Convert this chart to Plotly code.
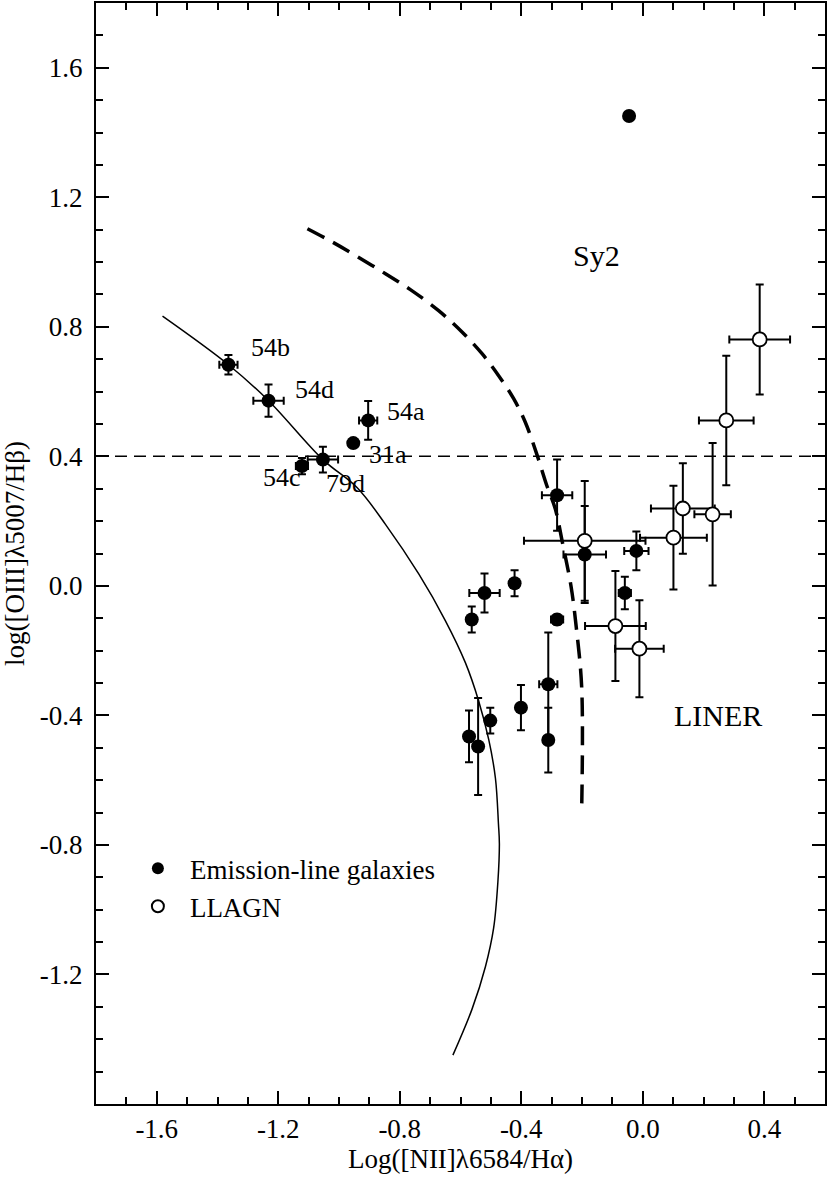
import plotly.graph_objects as go

# Emission-line galaxies (filled symbols)
gal_x = [-1.364, -1.232, -0.904, -0.953, -1.053, -1.122, -0.045, -0.282, -0.191, -0.021, -0.059,
         -0.422, -0.521, -0.563, -0.282, -0.311, -0.311, -0.401, -0.502, -0.572, -0.542]
gal_y = [0.683, 0.572, 0.511, 0.441, 0.390, 0.370, 1.451, 0.280, 0.097, 0.108, -0.022,
         0.008, -0.022, -0.104, -0.104, -0.304, -0.476, -0.376, -0.416, -0.465, -0.496]
gal_ex = [0.03, 0.05, 0.03, 0.01, 0.05, 0.02, 0.01, 0.05, 0.07, 0.04, 0.02,
          0.015, 0.05, 0.01, 0.02, 0.03, 0.01, 0.01, 0.01, 0.01, 0.01]
gal_ey = [0.03, 0.05, 0.06, 0.01, 0.04, 0.025, 0.01, 0.11, 0.15, 0.06, 0.05,
          0.04, 0.06, 0.04, 0.015, 0.16, 0.10, 0.07, 0.04, 0.08, 0.15]

# LLAGN (open symbols)
agn_x = [0.385, 0.275, 0.132, 0.230, 0.101, -0.191, -0.090, -0.011]
agn_y = [0.761, 0.511, 0.239, 0.221, 0.149, 0.139, -0.124, -0.194]
agn_ex = [0.10, 0.09, 0.105, 0.06, 0.11, 0.20, 0.10, 0.08]
agn_ey = [0.17, 0.20, 0.14, 0.22, 0.16, 0.185, 0.17, 0.15]

# point labels
lab_text = ["54b", "54d", "54a", "31a", "54c", "79d"]
lab_x = [-1.227, -1.082, -0.780, -0.838, -1.187, -0.980]
lab_y = [0.735, 0.606, 0.537, 0.407, 0.334, 0.315]

# thin solid sequence
seq_x = [-1.581, -1.364, -1.232, -1.053, -0.940, -0.847, -0.737, -0.650, -0.584, -0.540,
         -0.507, -0.485, -0.475, -0.472, -0.477, -0.491, -0.518, -0.562, -0.625]
seq_y = [0.833, 0.683, 0.572, 0.390, 0.303, 0.190, 0.036, -0.107, -0.237, -0.356,
         -0.475, -0.594, -0.736, -0.796, -0.915, -1.057, -1.176, -1.307, -1.449]

# thick dashed dividing line
div_x = [-1.104, -1.022, -0.945, -0.847, -0.765, -0.672, -0.595, -0.529, -0.475, -0.425,
         -0.387, -0.350, -0.316, -0.288, -0.264, -0.236, -0.219, -0.201, -0.201]
div_y = [1.103, 1.062, 1.020, 0.964, 0.915, 0.850, 0.784, 0.717, 0.650, 0.578,
         0.506, 0.410, 0.310, 0.238, 0.132, -0.002, -0.127, -0.314, -0.687]

x_ticks = [-1.6, -1.2, -0.8, -0.4, 0.0, 0.4]
y_ticks = [-1.2, -0.8, -0.4, 0.0, 0.4, 0.8, 1.2, 1.6]

font = "Liberation Serif"

fig = go.Figure()

fig.add_hline(y=0.4, line=dict(color="black", width=1.5, dash="12px,7px"))

fig.add_trace(go.Scatter(x=seq_x, y=seq_y, mode="lines", showlegend=False,
                         line=dict(color="black", width=1.5, shape="spline")))
fig.add_trace(go.Scatter(x=div_x, y=div_y, mode="lines", showlegend=False,
                         line=dict(color="black", width=3.5, dash="19px,10px", shape="spline", smoothing=1)))

err = dict(type="data", color="black", thickness=2, width=4)
fig.add_trace(go.Scatter(
    x=gal_x, y=gal_y, mode="markers", name="Emission-line galaxies", legendgroup="g",
    marker=dict(color="black", size=14, line=dict(width=0)),
    error_x=dict(array=gal_ex, **err), error_y=dict(array=gal_ey, **err)))
fig.add_trace(go.Scatter(
    x=agn_x, y=agn_y, mode="markers", name="LLAGN", legendgroup="a",
    marker=dict(color="white", size=14, line=dict(color="black", width=1.8)),
    error_x=dict(array=agn_ex, **err), error_y=dict(array=agn_ey, **err)))

for t, x, y in zip(lab_text, lab_x, lab_y):
    fig.add_annotation(x=x, y=y, text=t, showarrow=False, font=dict(size=26))
fig.add_annotation(x=-0.153, y=1.020, text="Sy2", showarrow=False, font=dict(size=30))
fig.add_annotation(x=0.248, y=-0.399, text="LINER", showarrow=False, font=dict(size=30))

axis = dict(showline=True, linecolor="black", linewidth=2, mirror="allticks",
            ticks="inside", ticklen=13, tickwidth=2, tickcolor="black",
            showgrid=False, zeroline=False, tickfont=dict(size=27),
            tickmode="array", automargin=False,
            minor=dict(ticks="inside", ticklen=7, tickwidth=2, tickcolor="black",
                       tickmode="linear", tick0=0, dtick=0.1, showgrid=False))

fig.update_xaxes(**axis, range=[-1.8, 0.6], tickvals=x_ticks,
                 ticktext=["%.1f" % v for v in x_ticks], ticklabelstandoff=0,
                 title=dict(text="Log([NII]λ6584/Hα)", font=dict(size=27), standoff=2))
fig.update_yaxes(**axis, range=[-1.6, 1.8], tickvals=y_ticks,
                 ticktext=["%.1f" % v for v in y_ticks], ticklabelstandoff=6,
                 title=dict(text="log([OIII]λ5007/Hβ)", font=dict(size=27), standoff=10))

fig.update_layout(
    width=830, height=1178,
    margin=dict(l=96, r=5, t=3, b=74),
    plot_bgcolor="white", paper_bgcolor="white",
    font=dict(family=font, color="black"),
    legend=dict(x=0.041, y=0.236, xanchor="left", yanchor="top",
                font=dict(size=27), bgcolor="rgba(0,0,0,0)",
                itemsizing="constant", itemwidth=54, tracegroupgap=0),
)

# the page's default body margin would shift the figure
fig.write_html("out.html", config={"displayModeBar": False},
               post_script="document.body.style.margin='0';document.body.style.overflow='hidden';")
